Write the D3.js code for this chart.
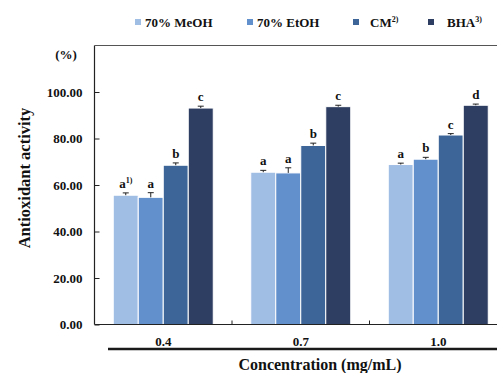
<!DOCTYPE html>
<html><head><meta charset="utf-8">
<script src="https://cdn.jsdelivr.net/npm/d3@7"></script>
<style>html,body{margin:0;padding:0;background:#fff;}svg{display:block;}</style>
</head><body>
<script>
const categories = ["0.4", "0.7", "1.0"];
const seriesNames = ["70% MeOH", "70% EtOH", "CM", "BHA"];
const seriesSup = ["", "", "2)", "3)"];
const meoh = [55.6, 65.5, 68.8];
const etoh = [54.7, 65.2, 71.1];
const cm = [68.5, 77.0, 81.5];
const bha = [93.1, 93.7, 94.3];
const meohErr = [1.0, 0.8, 0.6];
const etohErr = [2.0, 2.2, 0.8];
const cmErr = [1.0, 1.0, 0.6];
const bhaErr = [0.8, 0.6, 0.5];
const letters = [["a", "a", "b", "c"], ["a", "a", "b", "c"], ["a", "b", "c", "d"]];
const yTicks = [0, 20, 40, 60, 80, 100];
const colors = ["#a0bde4", "#6290cd", "#3d6598", "#2e3e62"];

const values = [meoh, etoh, cm, bha];
const errs = [meohErr, etohErr, cmErr, bhaErr];

const W = 497, H = 373;
const svg = d3.select("body").append("svg").attr("width", W).attr("height", H);
const font = "'Liberation Serif','Times New Roman',serif";

const pLeft = 94.5, pTop = 45.5, pBottom = 324.5, pRightEnd = 507;
const y = d3.scaleLinear().domain([0, 120]).range([pBottom, pTop]);
const x0 = d3.scaleBand().domain(categories).range([pLeft, pRightEnd]).padding(0);
const x1 = d3.scaleBand().domain(seriesNames)
  .range([(x0.bandwidth() - 100) / 2, (x0.bandwidth() + 100) / 2]).padding(0);

// bars
const g = svg.append("g");
categories.forEach((c, ci) => {
  seriesNames.forEach((s, si) => {
    const v = values[si][ci], e = errs[si][ci];
    const bx = x0(c) + x1(s);
    const bw = x1.bandwidth();
    g.append("rect").attr("x", bx).attr("y", y(v)).attr("width", bw)
      .attr("height", y(0) - y(v)).attr("fill", colors[si])
      .attr("stroke", "#fff").attr("stroke-width", 1);
    const cx = bx + bw / 2;
    g.append("line").attr("x1", cx).attr("x2", cx).attr("y1", y(v)).attr("y2", y(v + e))
      .attr("stroke", "#222").attr("stroke-width", 1);
    g.append("line").attr("x1", cx - 3).attr("x2", cx + 3).attr("y1", y(v + e)).attr("y2", y(v + e))
      .attr("stroke", "#222").attr("stroke-width", 1);
    const t = g.append("text").attr("x", cx).attr("y", y(v + e) - 5)
      .attr("text-anchor", "middle").attr("font-family", font).attr("font-weight", "bold")
      .attr("font-size", 13).attr("fill", "#111").text(letters[ci][si]);
    if (ci === 0 && si === 0) {
      t.append("tspan").attr("font-size", 8).attr("dy", -5).text("1)");
    }
  });
});

// y axis
const yAxis = d3.axisLeft(y).tickValues(yTicks).tickSize(-5).tickPadding(12)
  .tickFormat(d3.format(".2f"));
const ya = svg.append("g").attr("transform", `translate(${pLeft},0)`).call(yAxis);
ya.select(".domain").remove();
ya.selectAll(".tick line").attr("stroke", "#222");
ya.selectAll("text").attr("font-family", font).attr("font-weight", "bold")
  .attr("font-size", 13).attr("fill", "#111");

// frame lines
svg.append("line").attr("x1", pLeft).attr("x2", pLeft).attr("y1", pTop).attr("y2", pBottom)
  .attr("stroke", "#222").attr("stroke-width", 1.2);
svg.append("line").attr("x1", pLeft).attr("x2", W).attr("y1", pTop).attr("y2", pTop)
  .attr("stroke", "#555").attr("stroke-width", 1.2);

// x axis
const xAxis = d3.axisBottom(x0).tickSize(0).tickPadding(12);
const xa = svg.append("g").attr("transform", `translate(0,${pBottom})`).call(xAxis);
xa.select(".domain").remove();
xa.selectAll("text").attr("font-family", font).attr("font-weight", "bold")
  .attr("font-size", 13).attr("fill", "#111");
svg.append("line").attr("x1", pLeft).attr("x2", W).attr("y1", pBottom).attr("y2", pBottom)
  .attr("stroke", "#222").attr("stroke-width", 1.2);
categories.slice(1).forEach(c => {
  svg.append("line").attr("x1", x0(c)).attr("x2", x0(c)).attr("y1", pBottom).attr("y2", pBottom - 4)
    .attr("stroke", "#222").attr("stroke-width", 1);
});

// thick line under x labels
svg.append("line").attr("x1", 108).attr("x2", W).attr("y1", 349).attr("y2", 349)
  .attr("stroke", "#1a1a1a").attr("stroke-width", 2.5);

// axis titles
svg.append("text").attr("x", 320).attr("y", 370).attr("text-anchor", "middle")
  .attr("font-family", font).attr("font-weight", "bold").attr("font-size", 16)
  .attr("fill", "#111").text("Concentration (mg/mL)");
svg.append("text").attr("transform", "translate(30,178) rotate(-90)").attr("text-anchor", "middle")
  .attr("font-family", font).attr("font-weight", "bold").attr("font-size", 16.5)
  .attr("fill", "#111").text("Antioxidant activity");
svg.append("text").attr("x", 66).attr("y", 59).attr("text-anchor", "middle")
  .attr("font-family", font).attr("font-weight", "bold").attr("font-size", 13)
  .attr("fill", "#111").text("(%)");

// legend
const legX = [135, 247, 353, 428];
const legTX = [145, 257, 370, 447];
seriesNames.forEach((s, i) => {
  svg.append("rect").attr("x", legX[i]).attr("y", 19).attr("width", 6).attr("height", 6)
    .attr("fill", colors[i]);
  const t = svg.append("text").attr("x", legTX[i]).attr("y", 27)
    .attr("font-family", font).attr("font-weight", "bold").attr("font-size", 13)
    .attr("fill", "#111").text(s);
  if (seriesSup[i]) t.append("tspan").attr("font-size", 8).attr("dy", -5).text(seriesSup[i]);
});
</script>
</body></html>
